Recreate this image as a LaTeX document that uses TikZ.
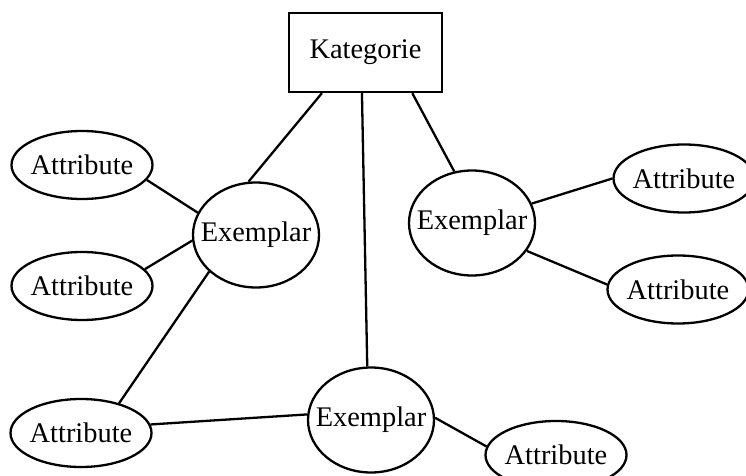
\documentclass[tikz,border=0pt]{standalone}
\usepackage{fontspec}
\setmainfont{Liberation Serif}
\usetikzlibrary{shapes.geometric}
\tikzset{
  kat/.style={draw, minimum width=76.5pt, minimum height=39.5pt, inner sep=0pt},
  exm/.style={draw, ellipse, minimum width=63pt, minimum height=52.5pt, inner sep=0pt},
  attr/.style={draw, ellipse, minimum width=70.5pt, minimum height=34pt, inner sep=0pt},
}
\begin{document}
\begin{tikzpicture}[x=0.5pt, y=-0.5pt, line width=1.15pt, font=\fontsize{14.2}{17}\selectfont]
   \useasboundingbox (0,0) rectangle (746,476);
   \node[kat] (K) at (365.5,52.5) {Kategorie};
   \node[exm, label=center:Exemplar] (E1) at (256,235) {};
   \node[exm, label=center:Exemplar] (E2) at (472,223) {};
   \node[exm, label=center:Exemplar] (E3) at (371,420) {};
   \node[attr, label=center:Attribute] (A1) at (82,165) {};
   \node[attr, label=center:Attribute] (A2) at (82,286) {};
   \node[attr, label=center:Attribute] (A3) at (81,433) {};
   \node[attr, label=center:Attribute] (A4) at (556,455) {};
   \node[attr, label=center:Attribute] (A5) at (684,178.5) {};
   \node[attr, label=center:Attribute] (A6) at (678,289.5) {};
   \draw (K.-137) -- (E1.98);
   \draw (K.-95) -- (E3.94);
   \draw (K.-41) -- (E2.109);
   \draw (A1.-13) -- (E1.159);
   \draw (A2.15) -- (E1.185);
   \draw (E1.218) -- (A3.38);
   \draw (A3.7) -- (E3.175);
   \draw (E3.2) -- (A4.173);
   \draw (E2.18) -- (A5.180);
   \draw (E2.-27) -- (A6.176);
\end{tikzpicture}
\end{document}
